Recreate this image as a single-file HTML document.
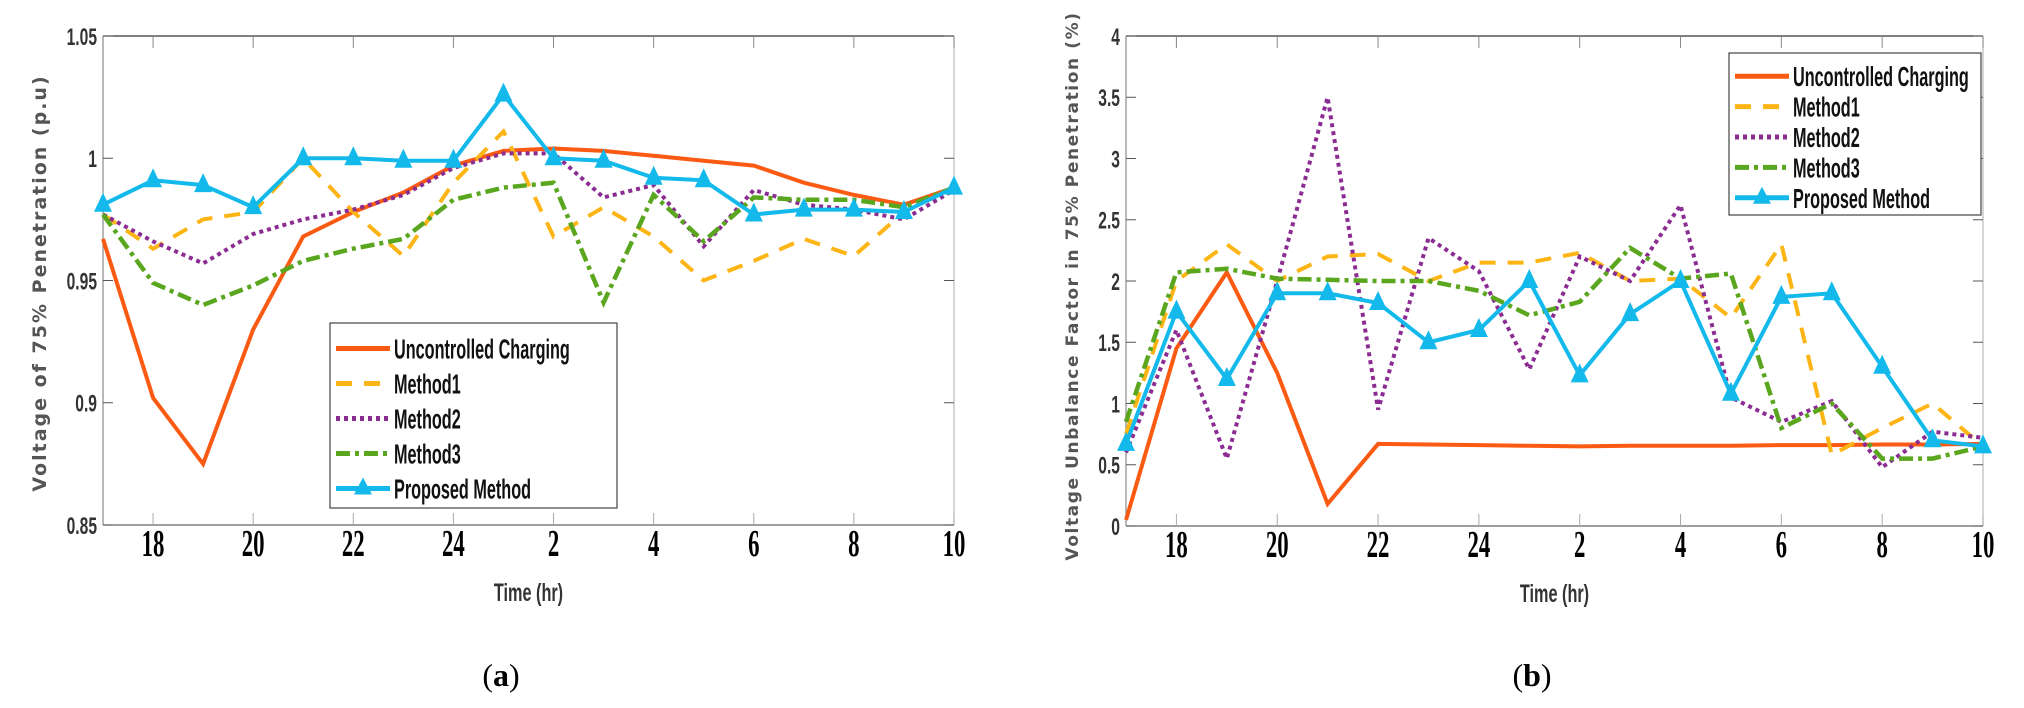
<!DOCTYPE html>
<html><head><meta charset="utf-8">
<style>
html,body{margin:0;padding:0;background:#fff;}
svg{display:block}
</style></head>
<body>
<svg id="s" width="2024" height="708" xmlns="http://www.w3.org/2000/svg"></svg>
<script>
const S=document.getElementById('s');
let h='';
function chart(L,R,T,B,ymin,ymax,yticks,yfmt,data,leg,ytitle,ytx,yty,cap,capx,tfs,tls){
  const X=i=>L+(R-L)*i/17, Y=v=>B-(B-T)*(v-ymin)/(ymax-ymin);
  h+=`<line x1="${L}" y1="${T}" x2="${R}" y2="${T}" stroke="#333" stroke-width="1.2"/>`;
  h+=`<line x1="${R}" y1="${T}" x2="${R}" y2="${B}" stroke="#bbb" stroke-width="1.2"/>`;
  h+=`<line x1="${L}" y1="${T}" x2="${L}" y2="${B}" stroke="#888" stroke-width="1.2"/>`;
  h+=`<line x1="${L}" y1="${B}" x2="${R}" y2="${B}" stroke="#666" stroke-width="1.2"/>`;
  const lab=['18','20','22','24','2','4','6','8','10'];
  for(let k=0;k<9;k++){const x=X(1+2*k);
    h+=`<line x1="${x}" y1="${T}" x2="${x}" y2="${T+12}" stroke="#888"/><line x1="${x}" y1="${B}" x2="${x}" y2="${B-12}" stroke="#aaa"/>`;
    h+=`<text x="${x}" y="${B+31}" font-family="Liberation Serif,serif" font-weight="bold" font-size="38" text-anchor="middle" transform="translate(${x} 0) scale(0.6 1) translate(${-x} 0)">${lab[k]}</text>`;}
  yticks.forEach(v=>{const y=Y(v);
    h+=`<line x1="${L}" y1="${y}" x2="${L+10}" y2="${y}" stroke="#555"/><line x1="${R}" y1="${y}" x2="${R-10}" y2="${y}" stroke="#555"/>`;
    h+=`<text x="${L-6}" y="${y+9}" font-family="Liberation Sans,sans-serif" font-weight="bold" font-size="24" fill="#333" text-anchor="end" transform="translate(${L-6} 0) scale(0.65 1) translate(${-(L-6)} 0)">${yfmt(v)}</text>`;});
  const st=[
   {c:'#fb5a13',d:'',w:4},
   {c:'#fdb515',d:'16 12',w:4},
   {c:'#8b2c92',d:'4 4',w:4},
   {c:'#5aa61e',d:'14 5 4 5',w:4.5},
   {c:'#13b9ea',d:'',w:4}];
  data.forEach((arr,j)=>{const p=arr.map((v,i)=>X(i).toFixed(1)+','+Y(v).toFixed(1)).join(' ');
    h+=`<polyline points="${p}" fill="none" stroke="${st[j].c}" stroke-width="${st[j].w}" stroke-dasharray="${st[j].d}" stroke-linejoin="miter"/>`;
    if(j==4) arr.forEach((v,i)=>{const x=X(i),y=Y(v);h+=`<polygon points="${x},${y-12} ${x-9},${y+7} ${x+9},${y+7}" fill="#13b9ea"/>`;});
  });
  const [lx,ly,lw,lh]=leg;
  h+=`<rect x="${lx}" y="${ly}" width="${lw}" height="${lh}" fill="#fff" stroke="#444" stroke-width="1.2"/>`;
  const names=['Uncontrolled Charging','Method1','Method2','Method3','Proposed Method'];
  const dy=(lh-10)/5;
  names.forEach((n,j)=>{const y=ly+8+dy*(j+0.5);
    h+=`<line x1="${lx+6}" y1="${y}" x2="${lx+60}" y2="${y}" stroke="${st[j].c}" stroke-width="5" stroke-dasharray="${st[j].d}"/>`;
    if(j==4) h+=`<polygon points="${lx+33},${y-11} ${lx+24},${y+6} ${lx+42},${y+6}" fill="#13b9ea"/>`;
    h+=`<text x="${lx+64}" y="${y+10}" font-family="Liberation Sans,sans-serif" font-weight="bold" font-size="28" fill="#111" transform="translate(${lx+64} 0) scale(0.58 1) translate(${-(lx+64)} 0)">${n}</text>`;});
  h+=`<text x="${(L+R)/2}" y="${B+76}" font-family="Liberation Sans,sans-serif" font-weight="bold" font-size="25" fill="#333" text-anchor="middle" transform="translate(${(L+R)/2} 0) scale(0.65 1) translate(${-(L+R)/2} 0)">Time (hr)</text>`;
  h+=`<text x="${ytx}" y="${yty}" font-family="DejaVu Sans,sans-serif" font-weight="bold" font-size="${tfs}" fill="#555" text-anchor="middle" letter-spacing="${tls}" transform="rotate(-90 ${ytx} ${yty})">${ytitle}</text>`;
  h+=`<text x="${capx}" y="686" font-family="Liberation Serif,serif" font-size="32" text-anchor="middle">(<tspan font-weight="bold">${cap}</tspan>)</text>`;
}
chart(103,954,36,525,0.85,1.05,[0.85,0.9,0.95,1,1.05],v=>(v==1?'1':(''+v)),[
[0.967,0.902,0.875,0.930,0.968,0.978,0.986,0.997,1.003,1.004,1.003,1.001,0.999,0.997,0.990,0.985,0.981,0.988],
[0.977,0.963,0.975,0.978,1.000,0.978,0.960,0.990,1.011,0.968,0.980,0.968,0.950,0.958,0.967,0.960,0.978,0.988],
[0.977,0.966,0.957,0.969,0.975,0.979,0.985,0.996,1.002,1.002,0.984,0.989,0.964,0.987,0.981,0.979,0.975,0.987],
[0.977,0.949,0.940,0.948,0.958,0.963,0.967,0.983,0.988,0.990,0.941,0.985,0.966,0.984,0.983,0.983,0.980,0.988],
[0.981,0.991,0.989,0.980,1.000,1.000,0.999,0.999,1.026,1.000,0.999,0.992,0.991,0.977,0.979,0.979,0.978,0.988]],
[330,323,287,185],'Voltage of 75% Penetration (p.u)',46,283,'a',501,19,2);
chart(1126,1983,36,526,0,4,[0,0.5,1,1.5,2,2.5,3,3.5,4],v=>''+v,[
[0.05,1.45,2.07,1.25,0.18,0.67,0.665,0.66,0.655,0.65,0.655,0.655,0.655,0.66,0.66,0.665,0.665,0.67],
[0.75,2.0,2.3,2.0,2.2,2.22,2.0,2.15,2.15,2.23,2.0,2.02,1.7,2.3,0.58,0.8,1.0,0.65],
[0.6,1.6,0.55,2.0,3.5,0.95,2.35,2.08,1.28,2.2,2.0,2.62,1.05,0.85,1.02,0.48,0.77,0.72],
[0.85,2.07,2.1,2.02,2.01,2.0,2.0,1.92,1.72,1.83,2.27,2.02,2.06,0.8,1.0,0.55,0.55,0.65],
[0.67,1.75,1.2,1.9,1.9,1.82,1.5,1.6,2.0,1.23,1.73,2.0,1.08,1.87,1.9,1.3,0.7,0.65]],
[1729,53,252,162],'Voltage Unbalance Factor in 75% Penetration (%)',1078,286,'b',1532,17,1.6);
S.innerHTML=h;
</script>
</body></html>
